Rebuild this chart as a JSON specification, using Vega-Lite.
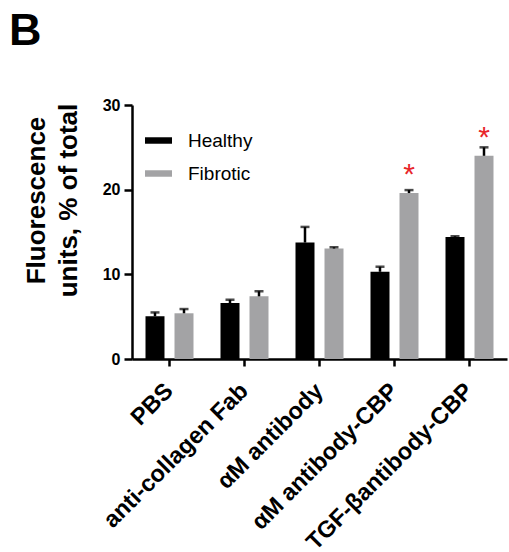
{
  "$schema": "https://vega.github.io/schema/vega-lite/v6.json",
  "autosize": "none",
  "width": 375,
  "height": 254,
  "padding": {"left": 132, "top": 105, "right": 2, "bottom": 193},
  "background": "white",
  "title": {"text": "B", "fontSize": 45, "fontWeight": "bold", "font": "Liberation Sans", "anchor": "start", "frame": "group", "dx": -123, "baseline": "alphabetic", "offset": 7, "color": "black"},
  "config": {
    "font": "Liberation Sans",
    "view": {"stroke": null},
    "axis": {"grid": false, "domainColor": "black", "domainWidth": 2.5, "tickColor": "black", "tickWidth": 2.5, "labelColor": "black", "labelFont": "Liberation Sans", "labelFontWeight": "bold", "titleColor": "black", "titleFont": "Liberation Sans"}
  },
  "data": {"values": [
    {"treatment": "PBS", "group": "Healthy", "value": 5.05, "err": 5.5},
    {"treatment": "PBS", "group": "Fibrotic", "value": 5.4, "err": 5.9},
    {"treatment": "anti-collagen Fab", "group": "Healthy", "value": 6.6, "err": 7.0},
    {"treatment": "anti-collagen Fab", "group": "Fibrotic", "value": 7.4, "err": 8.0},
    {"treatment": "αM antibody", "group": "Healthy", "value": 13.75, "err": 15.6},
    {"treatment": "αM antibody", "group": "Fibrotic", "value": 13.05, "err": 13.2},
    {"treatment": "αM antibody-CBP", "group": "Healthy", "value": 10.3, "err": 10.9},
    {"treatment": "αM antibody-CBP", "group": "Fibrotic", "value": 19.6, "err": 19.95, "star": 20.7},
    {"treatment": "TGF-βantibody-CBP", "group": "Healthy", "value": 14.4, "err": 14.5},
    {"treatment": "TGF-βantibody-CBP", "group": "Fibrotic", "value": 24.0, "err": 25.0, "star": 25.0}
  ]},
  "encoding": {
    "x": {"field": "treatment", "type": "nominal", "sort": ["PBS", "anti-collagen Fab", "αM antibody", "αM antibody-CBP", "TGF-βantibody-CBP"],
      "scale": {"paddingInner": 0.36, "paddingOuter": 0.18},
      "axis": {"title": null, "labelAngle": -45, "labelAlign": "right", "labelBaseline": "middle", "labelFontSize": 23.5, "labelPadding": 21, "tickSize": 7, "labelLimit": 400, "labelOverlap": false}},
    "xOffset": {"field": "group", "type": "nominal", "sort": ["Healthy", "Fibrotic"], "scale": {"paddingInner": 0.345, "paddingOuter": 0}}
  },
  "layer": [
    {
      "mark": {"type": "bar"},
      "encoding": {
        "y": {"field": "value", "type": "quantitative", "scale": {"domain": [0, 30], "nice": false},
          "axis": {"values": [0, 10, 20, 30], "labelFontSize": 16, "tickSize": 8, "labelPadding": 4,
            "title": ["Fluorescence", "units, % of total"], "titleFontSize": 26, "titleFontWeight": "bold", "titleLineHeight": 32,
            "titleAngle": -90, "titleAlign": "center", "titleBaseline": "alphabetic", "titleX": -88, "titleY": 95}},
        "color": {"field": "group", "type": "nominal", "sort": ["Healthy", "Fibrotic"],
          "scale": {"domain": ["Healthy", "Fibrotic"], "range": ["#000000", "#a3a3a5"]},
          "legend": {"title": null, "orient": "none", "legendX": 13, "legendY": 22, "symbolType": "M-1,-0.24H1V0.24H-1Z", "symbolSize": 729, "symbolStrokeWidth": 0, "labelFontSize": 19, "labelColor": "black", "labelOffset": 16, "rowPadding": 9, "padding": 0}}
      }
    },
    {
      "mark": {"type": "rule", "color": "black", "strokeWidth": 2.5},
      "encoding": {"y": {"field": "value", "type": "quantitative"}, "y2": {"field": "err"}}
    },
    {
      "mark": {"type": "tick", "color": "black", "size": 9, "thickness": 2.5},
      "encoding": {"y": {"field": "err", "type": "quantitative"}}
    },
    {
      "transform": [{"filter": "isValid(datum.star)"}],
      "mark": {"type": "text", "text": "*", "color": "#e8262a", "fontSize": 30, "baseline": "alphabetic", "align": "center"},
      "encoding": {"y": {"field": "star", "type": "quantitative"}}
    }
  ]
}
